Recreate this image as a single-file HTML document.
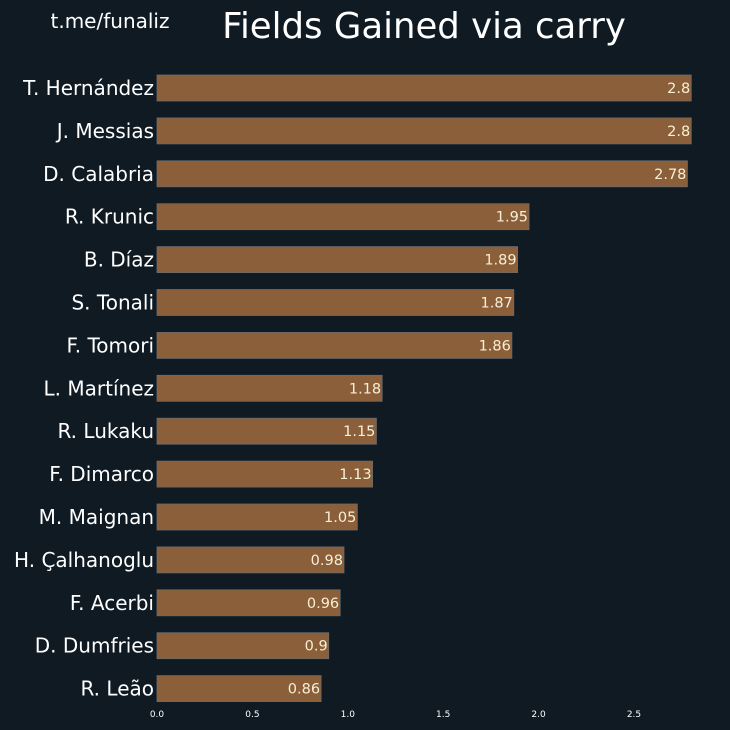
<!DOCTYPE html>
<html><head><meta charset="utf-8"><style>
body{margin:0;background:#0f1a23;}
svg{display:block;font-family:"DejaVu Sans","Liberation Sans",sans-serif;}
</style></head><body>
<svg id="c" width="730" height="730">
<rect width="730" height="730" fill="#0f1a23"/>
<text x="110" y="28" fill="#ffffff" font-size="20" text-anchor="middle">t.me/funaliz</text>
<text x="424" y="38" fill="#ffffff" font-size="35.5" text-anchor="middle">Fields Gained via carry</text>
<g id="bars"></g>
<g id="xaxis"></g>
</svg>
<script>
const players=["T. Hernández","J. Messias","D. Calabria","R. Krunic","B. Díaz","S. Tonali","F. Tomori","L. Martínez","R. Lukaku","F. Dimarco","M. Maignan","H. Çalhanoglu","F. Acerbi","D. Dumfries","R. Leão"];
const values=[2.8,2.8,2.78,1.95,1.89,1.87,1.86,1.18,1.15,1.13,1.05,0.98,0.96,0.9,0.86];
const valueLabels=["2.8","2.8","2.78","1.95","1.89","1.87","1.86","1.18","1.15","1.13","1.05","0.98","0.96","0.9","0.86"];
const ticks=[0,0.5,1,1.5,2,2.5];
const tickLabels=["0.0","0.5","1.0","1.5","2.0","2.5"];
const NS="http://www.w3.org/2000/svg";
const x=v=>157+v*190.8;
const y=i=>88+i*42.9;
const bh=26;
const gb=document.getElementById('bars'),gx=document.getElementById('xaxis');
players.forEach((p,i)=>{
  const r=document.createElementNS(NS,'rect');
  
  
  r.setAttribute('x',x(0));r.setAttribute('y',y(i)-bh/2);
  r.setAttribute('width',x(values[i])-x(0));r.setAttribute('height',bh);
  r.setAttribute('fill','#8a5f3a');r.setAttribute('stroke','#6b6b6b');r.setAttribute('stroke-width','0.8');
  gb.appendChild(r);
  const l=document.createElementNS(NS,'text');
  
  
  l.setAttribute('x',154);l.setAttribute('y',y(i)+7);l.setAttribute('text-anchor','end');
  l.setAttribute('fill','#ffffff');l.setAttribute('font-size','20');l.textContent=p;
  gb.appendChild(l);
  const v=document.createElementNS(NS,'text');
  
  
  v.setAttribute('x',x(values[i])-1);v.setAttribute('y',y(i)+5);v.setAttribute('text-anchor','end');
  v.setAttribute('fill','#f7efd6');v.setAttribute('font-size','14.5');v.textContent=valueLabels[i];
  gb.appendChild(v);
});
ticks.forEach((t,i)=>{
  const tx=document.createElementNS(NS,'text');
  
  
  tx.setAttribute('x',x(t));tx.setAttribute('y',717);tx.setAttribute('text-anchor','middle');
  tx.setAttribute('fill','#ffffff');tx.setAttribute('font-size','9');tx.textContent=tickLabels[i];
  gx.appendChild(tx);
});
</script>
</body></html>
